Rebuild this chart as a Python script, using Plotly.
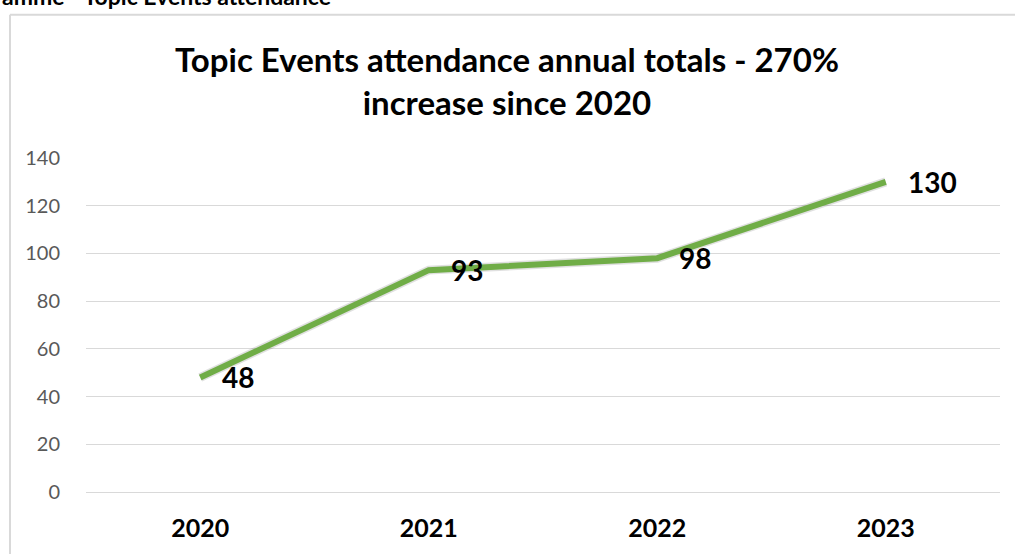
import plotly.graph_objects as go

years = ["2020", "2021", "2022", "2023"]
attendance = [48, 93, 98, 130]
y_ticks = [0, 20, 40, 60, 80, 100, 120, 140]

title_text = "Topic Events attendance annual totals - 270%<br>increase since 2020"
header_text = "amme - Topic Events attendance"

FONT = "Lato"
W, H = 1015, 554
L, R, T, B = 86, 15, 158, 60
pw, ph = W - L - R, H - T - B

def px_x(x):
    return (x - L) / pw

def px_y(y):
    return (H - B - y) / ph

fig = go.Figure()

# soft shadow beneath the line
fig.add_trace(go.Scatter(
    x=years, y=attendance, mode="lines",
    line=dict(color="rgba(0,0,0,0.12)", width=9),
    hoverinfo="skip", showlegend=False,
))
fig.add_trace(go.Scatter(
    x=years, y=attendance, mode="lines",
    line=dict(color="#70AD47", width=6),
    showlegend=False,
))

annotations = []
for i, v in enumerate(attendance):
    annotations.append(dict(
        x=i, y=v, xref="x", yref="y", text=f"<b>{v}</b>",
        showarrow=False, xanchor="left", yanchor="middle",
        xshift=20, yshift=0,
        font=dict(family=FONT, size=28, color="#000000"),
    ))

annotations.append(dict(
    x=px_x(507), y=px_y(80), xref="paper", yref="paper", text=f"<b>{title_text}</b>",
    showarrow=False, xanchor="center", yanchor="middle",
    font=dict(family=FONT, size=33, color="#000000"),
    align="center",
))
annotations.append(dict(
    x=px_x(0), y=px_y(-5), xref="paper", yref="paper", text=f"<b>{header_text}</b>",
    showarrow=False, xanchor="left", yanchor="middle",
    font=dict(family=FONT, size=23, color="#000000"),
))

shapes = [
    dict(type="line", xref="paper", yref="paper",
         x0=px_x(10), x1=px_x(10), y0=px_y(14), y1=px_y(560),
         line=dict(color="#d9d9d9", width=2)),
    dict(type="line", xref="paper", yref="paper",
         x0=px_x(10), x1=px_x(1020), y0=px_y(14), y1=px_y(14),
         line=dict(color="#d9d9d9", width=2)),
]

fig.update_layout(
    width=W, height=H,
    margin=dict(l=L, r=R, t=T, b=B, pad=0),
    paper_bgcolor="white", plot_bgcolor="white",
    annotations=annotations, shapes=shapes,
    xaxis=dict(
        type="category", range=[-0.5, 3.5],
        showgrid=False, zeroline=False, showline=False, ticks="",
        tickfont=dict(family=FONT, size=25, color="#000000", weight="bold"),
        ticklabelstandoff=19,
    ),
    yaxis=dict(
        range=[0, 140], tickvals=y_ticks,
        showgrid=True, gridcolor="#d9d9d9", gridwidth=1.3,
        zeroline=True, zerolinecolor="#d9d9d9", zerolinewidth=1.3,
        showline=False, ticks="",
        tickfont=dict(family=FONT, size=20, color="#595959"),
        ticklabelstandoff=25,
    ),
)

fig.write_html(
    "out.html",
    config={"displayModeBar": False},
    post_script="document.body.style.margin='0';document.body.style.overflow='hidden';",
)
